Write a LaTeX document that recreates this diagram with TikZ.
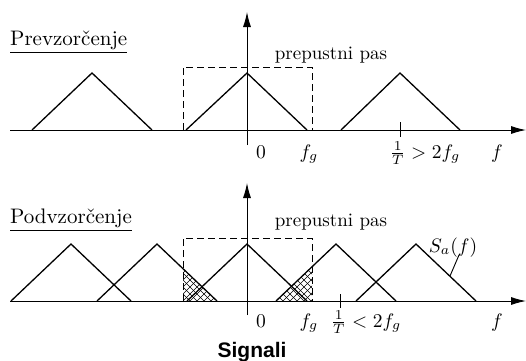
\documentclass[tikz,border=0pt]{standalone}
\usepackage{fontspec}
\newfontfamily\sigfont{Liberation Sans}
\usetikzlibrary{arrows.meta}
\newcommand{\bigtxt}[1]{\scalebox{1.95}{#1}}
\newcommand{\ttltxt}[1]{\scalebox{2.1}{#1}}
\newcommand{\passtxt}[1]{\scalebox{1.9}{#1}}
\begin{document}
\begin{tikzpicture}[x=1pt,y=-1pt,
  axis/.style={line width=0.9pt,-{Latex[length=15pt,width=8pt]}},
  tri/.style={line width=1.3pt,line join=miter},
  box/.style={line width=0.9pt,dash pattern=on 7pt off 4pt},
  lbl/.style={font=\fontsize{10}{12}\selectfont,inner sep=0pt,anchor=base},
  ttl/.style={font=\fontsize{10}{12}\selectfont,inner sep=0pt,anchor=base west},
  hatch/.style={line width=0.5pt}]
\useasboundingbox (0,0) rectangle (526,360);
% ---------- top panel ----------
\coordinate (ta0) at (10,130);
\coordinate (ta1) at (526,130);
\coordinate (tv0) at (247,145);
\coordinate (tv1) at (247,12);
\draw[axis] (ta0) -- (ta1);
\draw[axis] (tv0) -- (tv1);
\draw[tri] (32,130) -- (92,73) -- (152,130);
\draw[tri] (186,130) -- (247,73) -- (307,130);
\draw[tri] (341,130) -- (400,73) -- (460,130);
\draw[box] (183,130) -- (183,67) -- (312,67) -- (312,130);
\coordinate (tk0) at (400,122);
\coordinate (tk1) at (400,137);
\draw[line width=0.9pt] (tk0) -- (tk1);
\node[ttl] (t1) at (10,45) {\ttltxt{\underline{Prevzor\v{c}enje}}};
\node[lbl] (pp1) at (331,59) {\passtxt{prepustni pas}};
\node[lbl] (z1) at (261,158) {\bigtxt{$0$}};
\node[lbl] (fg1) at (309,158) {\bigtxt{$f_g$}};
\node[lbl] (tt1) at (425,158) {\bigtxt{$\frac{1}{T} > 2f_g$}};
\node[lbl] (f1) at (497,158) {\bigtxt{$f$}};
% ---------- bottom panel ----------
\coordinate (ba0) at (10,301);
\coordinate (ba1) at (526,301);
\coordinate (bv0) at (247,315);
\coordinate (bv1) at (247,183);
% hatched aliasing regions
\begin{scope}
  \clip (183,301) -- (183,268.7) -- (217,301) -- cycle;
  \foreach \i in {-10,...,14} {
    \draw[hatch] (183+\i*7,301) -- ++(40,-40);
    \draw[hatch] (183+\i*7,301) -- ++(-40,-40);
  }
\end{scope}
\begin{scope}
  \clip (276,301) -- (312,266.8) -- (312,301) -- cycle;
  \foreach \i in {-10,...,14} {
    \draw[hatch] (276+\i*7,301) -- ++(40,-40);
    \draw[hatch] (276+\i*7,301) -- ++(-40,-40);
  }
\end{scope}
\draw[axis] (ba0) -- (ba1);
\draw[axis] (bv0) -- (bv1);
\draw[tri] (11,301) -- (71,244) -- (131,301);
\draw[tri] (97,301) -- (157,244) -- (217,301);
\draw[tri] (187,301) -- (247,244) -- (307,301);
\draw[tri] (276,301) -- (336,244) -- (396,301);
\draw[tri] (356,301) -- (416,244) -- (476,301);
\draw[box] (183,301) -- (183,238) -- (312,238) -- (312,301);
\coordinate (bk0) at (340,294);
\coordinate (bk1) at (340,308);
\draw[line width=0.9pt] (bk0) -- (bk1);
\node[ttl] (t2) at (10,223) {\ttltxt{\underline{Podvzor\v{c}enje}}};
\node[lbl] (pp2) at (331,226) {\passtxt{prepustni pas}};
\node[lbl] (sa) at (453,252) {\bigtxt{$S_a(f)$}};
\coordinate (saend) at (450,276);
\draw[line width=0.9pt] (459,255) -- (saend);
\node[lbl] (z2) at (261,327) {\bigtxt{$0$}};
\node[lbl] (fg2) at (309,327) {\bigtxt{$f_g$}};
\node[lbl] (tt2) at (366,327) {\bigtxt{$\frac{1}{T} < 2f_g$}};
\node[lbl] (f2) at (497,327) {\bigtxt{$f$}};
\node[font=\sigfont\bfseries\fontsize{21}{24}\selectfont,inner sep=0pt,anchor=base] (sig) at (252,357) {Signali};
\end{tikzpicture}
\end{document}
